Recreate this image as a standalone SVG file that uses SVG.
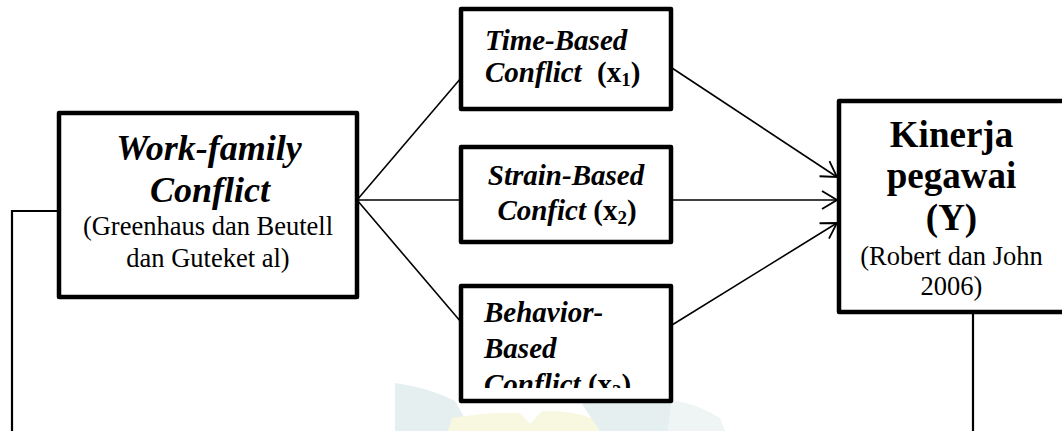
<svg xmlns="http://www.w3.org/2000/svg" width="1062" height="431" viewBox="0 0 1062 431">
<style>
.box{fill:#fff;stroke:#000;stroke-width:4.5;stroke-linejoin:round}
.ln{fill:none;stroke:#000;stroke-width:1.6}
.ln2{fill:none;stroke:#000;stroke-width:2.2}
text{font-family:'Liberation Serif','Times New Roman','DejaVu Serif',serif;fill:#000}
.bi{font-weight:bold;font-style:italic}
.b{font-weight:bold}
.r{font-weight:normal;font-style:normal}
</style>
<defs>
<marker id="arr" markerUnits="userSpaceOnUse" viewBox="0 0 18 22" markerWidth="18" markerHeight="22" refX="17" refY="11" orient="auto">
<path d="M2,2 L17,11 L2,20" fill="none" stroke="#000" stroke-width="1.8"/>
</marker>
<clipPath id="clipB"><rect x="461" y="286" width="210" height="102"/></clipPath>
</defs>
<g id="watermark" opacity="0.9">
<path d="M395,383 Q430,388 455,401 L472,431 L395,431 Z" fill="#e3eeee"/>
<path d="M452,418 Q490,412 520,413 L530,424 L542,411 Q570,410 592,418 L600,431 L448,431 Z" fill="#f7f8dc"/>
<path d="M582,404 Q620,384 655,380 L672,400 L668,431 L600,431 Z" fill="#e3eeee"/>
<path d="M672,400 Q700,405 720,418 L725,431 L668,431 Z" fill="#eef4f4"/>
</g>
<g id="connectors">
<polyline class="ln2" points="59,211 12,211 12,431"/>
<line class="ln" x1="357" y1="200" x2="461" y2="78"/>
<line class="ln" x1="357" y1="200" x2="461" y2="200"/>
<line class="ln" x1="357" y1="200" x2="461" y2="322"/>
<line class="ln" x1="672" y1="68" x2="837" y2="177" marker-end="url(#arr)"/>
<line class="ln" x1="672" y1="200" x2="837" y2="200" marker-end="url(#arr)"/>
<line class="ln" x1="672" y1="325" x2="837" y2="223" marker-end="url(#arr)"/>
<line class="ln2" x1="973" y1="312" x2="973" y2="431"/>
</g>
<g id="node-wfc" font-family="Liberation Serif, serif">
<rect class="box" x="59" y="113" width="298" height="184"/>
<text class="bi" x="209" y="160" font-size="36" text-anchor="middle">Work-family</text>
<text class="bi" x="210" y="202" font-size="36" text-anchor="middle">Conflict</text>
<text class="r" x="208" y="235" font-size="26.5" text-anchor="middle">(Greenhaus dan Beutell</text>
<text class="r" x="208" y="267" font-size="26.5" text-anchor="middle">dan Guteket al)</text>
</g>
<g id="node-time">
<rect class="box" x="461" y="9" width="210" height="100"/>
<text class="bi" x="485" y="50" font-size="29">Time-Based</text>
<text y="82" font-size="29"><tspan class="bi" x="485">Conflict</tspan><tspan class="b" x="597">(x</tspan><tspan class="b" font-size="19" dy="4">1</tspan><tspan class="b" dy="-4">)</tspan></text>
</g>
<g id="node-strain">
<rect class="box" x="461" y="147" width="210" height="95"/>
<text class="bi" x="566" y="185" font-size="29" text-anchor="middle">Strain-Based</text>
<text x="567" y="220" font-size="29" text-anchor="middle"><tspan class="bi">Confict </tspan><tspan class="b">(x</tspan><tspan class="b" font-size="19" dy="4">2</tspan><tspan class="b" dy="-4">)</tspan></text>
</g>
<g id="node-behavior">
<rect class="box" x="461" y="286" width="210" height="115"/>
<g clip-path="url(#clipB)">
<text class="bi" x="484" y="322" font-size="29">Behavior-</text>
<text class="bi" x="484" y="358" font-size="29">Based</text>
<text x="484" y="394" font-size="29"><tspan class="bi">Conflict </tspan><tspan class="b">(x</tspan><tspan class="b" font-size="19" dy="4">3</tspan><tspan class="b" dy="-4">)</tspan></text>
</g>
</g>
<g id="node-kinerja">
<rect class="box" x="839" y="101" width="240" height="211"/>
<text class="b" x="951.5" y="147" font-size="37" text-anchor="middle">Kinerja</text>
<text class="b" x="951.5" y="188" font-size="37" text-anchor="middle">pegawai</text>
<text class="b" x="951.5" y="230" font-size="37" text-anchor="middle">(Y)</text>
<text class="r" x="951.5" y="265" font-size="26.5" text-anchor="middle">(Robert dan John</text>
<text class="r" x="951.5" y="295" font-size="26.5" text-anchor="middle">2006)</text>
</g>
</svg>
